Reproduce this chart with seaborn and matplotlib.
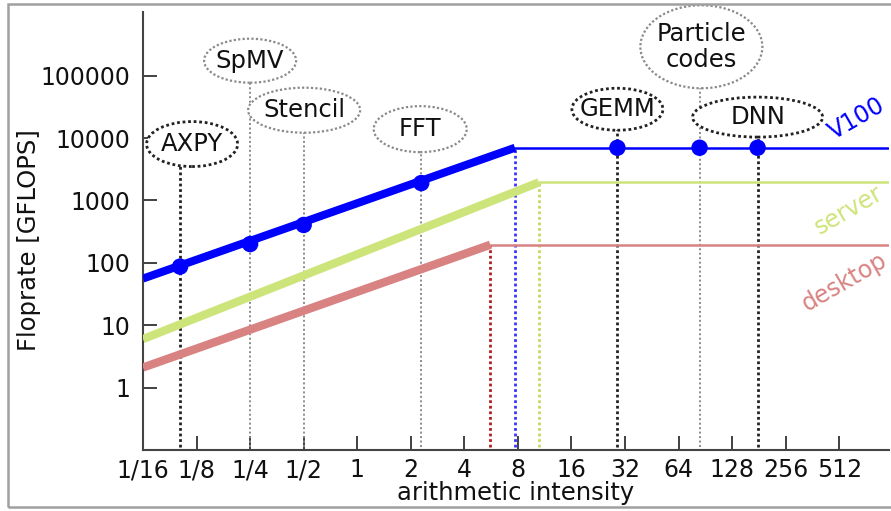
import matplotlib
matplotlib.use("Agg")
import matplotlib.pyplot as plt
import seaborn as sns
import pandas as pd
from matplotlib.patches import Rectangle, Ellipse
from matplotlib.transforms import IdentityTransform

# ---------------- data ----------------
machines = ["V100", "server", "desktop"]
start_intensity = 1 / 16
end_intensity = 960
ridge_intensity = [7.7, 10.5, 5.6]
peak_gflops = [7000, 1950, 195]
start_gflops = [56, 6.0, 2.1]

apps = ["AXPY", "SpMV", "Stencil", "FFT", "GEMM", "Particle\ncodes", "DNN"]
app_intensity = [0.101, 0.25, 0.5, 2.29, 29, 84, 178]
app_gflops = [87, 200, 405, 1900, 7000, 7000, 7000]

xticks = [1/16, 1/8, 1/4, 1/2, 1, 2, 4, 8, 16, 32, 64, 128, 256, 512]
xticklabels = ["1/16", "1/8", "1/4", "1/2", "1", "2", "4", "8", "16", "32",
               "64", "128", "256", "512"]
yticks = [1, 10, 100, 1000, 10000, 100000]
yticklabels = ["1", "10", "100", "1000", "10000", "100000"]

# ---------------- styles / positions ----------------
line_colors = {"V100": "#0000FF", "server": "#CDE47A", "desktop": "#D98282"}
ridge_colors = {"V100": "#3535FF", "server": "#C2DA62", "desktop": "#B01E1E"}
slope_lw = {"V100": 5.8, "server": 6.0, "desktop": 6.0}
text_pos = {"V100": (645, 20500), "server": (580, 700), "desktop": (545, 50)}

app_dark = {"AXPY": True, "SpMV": False, "Stencil": False, "FFT": False,
            "GEMM": True, "Particle\ncodes": False, "DNN": True}
label_pos = {"AXPY": (0.118, 8020), "SpMV": (0.25, 174000),
             "Stencil": (0.503, 28000), "FFT": (2.26, 13900),
             "GEMM": (29, 29000), "Particle\ncodes": (86, 291000),
             "DNN": (178, 21700)}
ellipse_px = {"AXPY": (91, 45), "SpMV": (92, 44), "Stencil": (112, 45),
              "FFT": (93, 46), "GEMM": (91, 42), "Particle\ncodes": (122, 83),
              "DNN": (130, 40)}

sns.set_style("ticks")
plt.rcParams["font.family"] = ["DejaVu Sans"]

fig = plt.figure(figsize=(8.91, 5.11), dpi=100)
ax = fig.add_axes([143 / 891, 1 - 450 / 511, (889 - 143) / 891, (450 - 12) / 511])
ax.set_xscale("log", base=2)
ax.set_yscale("log")
ax.set_xlim(1 / 16, 975)
ax.set_ylim(0.1, 1.05e6)

y_bottom = 0.112

# application vertical lines
for name, xi in zip(apps, app_intensity):
    dark = app_dark[name]
    ax.vlines(xi, y_bottom, label_pos[name][1],
              colors="#222222" if dark else "#8a8a8a",
              linestyles=(0, (1, 1)) if dark else (0, (1, 1.3)),
              lw=2.0 if dark else 1.4, zorder=1)

# roofline
for m, ri, pk, st in zip(machines, ridge_intensity, peak_gflops, start_gflops):
    c = line_colors[m]
    slope = pd.DataFrame({"x": [start_intensity, ri], "y": [st, pk]})
    flat = pd.DataFrame({"x": [ri, end_intensity], "y": [pk, pk]})
    sns.lineplot(data=slope, x="x", y="y", color=c, lw=slope_lw[m], ax=ax,
                 solid_capstyle="butt", zorder=3)
    sns.lineplot(data=flat, x="x", y="y", color=c, lw=1.8, ax=ax, zorder=3)
    ax.vlines(ri, y_bottom, pk, colors=ridge_colors[m],
              linestyles=(0, (1, 1)), lw=2.0, zorder=2)
    tx, ty = text_pos[m]
    ax.text(tx, ty, m, color=c, fontsize=17, rotation=30,
            ha="center", va="center", zorder=6)

# application points
sns.scatterplot(x=app_intensity, y=app_gflops, color="#0000FF", s=140,
                edgecolor="none", ax=ax, zorder=5)

# application labels in dotted ellipses
for name in apps:
    dark = app_dark[name]
    lx, ly = label_pos[name]
    cx, cy = ax.transData.transform((lx, ly))
    w, h = ellipse_px[name]
    e = Ellipse((cx, cy), w, h, transform=IdentityTransform(), fc="white",
                ec="#222222" if dark else "#8a8a8a", ls=(0, (1, 1)),
                lw=2.0 if dark else 1.6, zorder=6)
    ax.add_artist(e)
    e.set_clip_on(False)
    ax.text(lx, ly, name, fontsize=17.5, ha="center", va="center",
            color="#111111", linespacing=1.1, zorder=7)

ax.set_xticks(xticks)
ax.set_xticklabels(xticklabels)
ax.set_yticks(yticks)
ax.set_yticklabels(yticklabels)
ax.minorticks_off()
ax.tick_params(axis="both", direction="in", length=10, width=1.3,
               color="#333333", labelsize=17, labelcolor="#111111")
ax.tick_params(axis="y", pad=9)
ax.tick_params(axis="x", pad=6)
for s in ["top", "right"]:
    ax.spines[s].set_visible(False)
for s in ["left", "bottom"]:
    ax.spines[s].set_color("#444444")
    ax.spines[s].set_linewidth(1.5)

ax.set_xlabel("arithmetic intensity", fontsize=17.5, color="#111111")
ax.set_ylabel("Floprate [GFLOPS]", fontsize=17.5, color="#111111")
ax.xaxis.set_label_coords(0.5, -(481 - 450) / 438)
ax.yaxis.set_label_coords(-(143 - 41) / 746, (450 - 240) / 438)

# screenshot frame
fig.patches.append(Rectangle((8 / 891, 1 - 507 / 511), 1.2, 503 / 511,
                             transform=fig.transFigure, fill=False,
                             ec="#a0a0a0", lw=1.8, zorder=0))

fig.savefig("out.png", dpi=100)
